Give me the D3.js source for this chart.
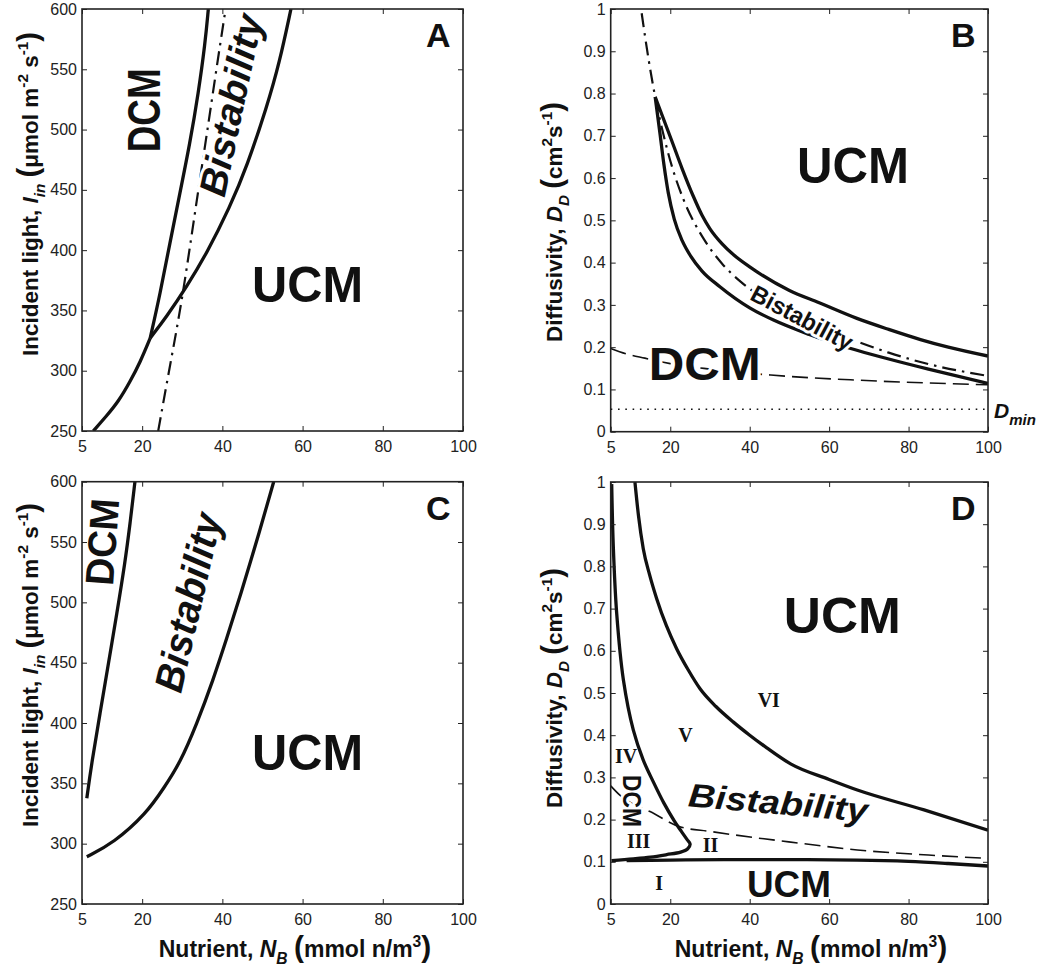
<!DOCTYPE html>
<meta charset="utf-8">
<style>
body { margin: 0; background: #fff; }
svg { font-family: "Liberation Sans", Arial, sans-serif; }
.axis text { font-size: 16px; fill: #222; font-family: "Liberation Sans", Arial, sans-serif; }
.frame { fill: none; stroke: #222; stroke-width: 1.6; }
.solid { fill: none; stroke: #111; stroke-width: 3.3; stroke-linejoin: round; }
.dashdot { fill: none; stroke: #111; stroke-width: 2.2; stroke-dasharray: 14 6 2.5 6; }
.dashed { fill: none; stroke: #111; stroke-width: 1.6; stroke-dasharray: 16 7; }
.dotted { fill: none; stroke: #111; stroke-width: 1.6; stroke-dasharray: 1.6 5.7; }
.region { font-weight: bold; fill: #111; }
.halo { stroke: #fff; stroke-width: 6; paint-order: stroke; stroke-linejoin: round; }
.roman { font-family: "Liberation Serif", "Times New Roman", serif; font-weight: bold; font-size: 20px; fill: #111; }
.title { font-weight: bold; fill: #111; }
.letter { font-weight: bold; font-size: 34px; fill: #111; }
</style>
<svg width="1048" height="970"></svg>
<script src="https://d3js.org/d3.v7.min.js"></script>
<script>
// tick values
var nutrientTicks = [5, 20, 40, 60, 80, 100];
var lightTicks = [250, 300, 350, 400, 450, 500, 550, 600];
var diffTicks = [0, 0.1, 0.2, 0.3, 0.4, 0.5, 0.6, 0.7, 0.8, 0.9, 1];

// panel A: incident light vs nutrient  [N_B, I_in]
var lightA_lowBranch = [[7.8,250],[11,262],[14,274],[17,291],[19.5,307],[22,327]];
var lightA_ucmEdge = [[22,327],[26.1,344.8],[31.1,369.7],[36.1,397.3],[41.9,436],[46.1,469.2],[51.1,518.9],[54.2,555],[57.1,600]];
var lightA_dcmEdge = [[22,327],[24.5,364.2],[26.9,405.6],[29.4,447.1],[31.9,488.6],[34,530],[35.7,571.5],[36.5,600]];
var lightA_dashDot = [[24,250],[26.7,300],[29.5,350],[31.8,400],[34,450],[36.3,500],[38.5,550],[40.8,600]];

// panel B: diffusivity vs nutrient  [N_B, D_D]
var diffB_upper = [[16.2,0.792],[20.3,0.69],[23,0.622],[25.8,0.557],[28,0.512],[30,0.48],[33,0.445],[36,0.418],[40,0.39],[50,0.334],[57.5,0.305],[67,0.268],[75,0.242],[83,0.218],[90,0.2],[100,0.179]];
var diffB_lower = [[16.2,0.792],[17.4,0.706],[18.4,0.632],[19.5,0.565],[21,0.503],[23,0.452],[25.1,0.416],[28,0.38],[32.5,0.343],[40,0.293],[46,0.264],[55,0.23],[65,0.198],[75,0.172],[85,0.148],[100,0.114]];
var diffB_dashDot = [[12.8,0.99],[14.5,0.883],[16.2,0.792],[18.2,0.706],[20.5,0.625],[23.3,0.55],[28.5,0.455],[33,0.398],[37.7,0.355],[45,0.307],[55,0.26],[66,0.217],[75,0.187],[85,0.16],[100,0.132]];
var diffB_dashed = [[5,0.197],[9,0.184],[13.6,0.174],[20,0.161],[30,0.148],[45.3,0.134],[67,0.122],[100,0.111]];
var diffB_dmin = [[5,0.053],[100,0.053]];

// panel C
var lightC_left = [[6.2,337.6],[7.4,366.6],[9.5,408.1],[11.6,449.5],[13.7,491],[15.7,532.4],[17,565.6],[18.2,600]];
var lightC_right = [[6.2,289.2],[12.8,300.3],[21.1,325.2],[25.3,345.6],[29.4,366.6],[33.6,399],[37.7,435.7],[41,469.2],[44.4,504.7],[49.4,560],[52.8,600]];

// panel D
var diffD_left = [[5.25,0.995],[5.65,0.848],[6.5,0.69],[8.2,0.531],[10.7,0.412],[13.2,0.341],[15.7,0.29],[18.4,0.239],[21,0.197],[22.8,0.172],[24.2,0.153],[25,0.142],[24.4,0.131],[22.6,0.123],[19.1,0.117],[15,0.111],[10.7,0.107],[5.2,0.103]];
var diffD_upper = [[11.1,1.0],[12,0.92],[13.2,0.842],[14.8,0.78],[16.6,0.723],[19,0.66],[21.6,0.605],[24.5,0.555],[27.5,0.51],[31.5,0.468],[35.9,0.431],[40,0.4],[44.3,0.37],[50.3,0.332],[60,0.295],[67.1,0.27],[83.9,0.223],[100,0.175]];
var diffD_floor = [[9,0.103],[20,0.104],[33.5,0.105],[50,0.105],[67,0.104],[80,0.101],[90,0.096],[100,0.09]];
var diffD_dashed = [[5,0.28],[7.3,0.258],[10,0.24],[14.9,0.219],[22.4,0.183],[30,0.172],[35.9,0.164],[52.7,0.144],[67.1,0.128],[85,0.116],[100,0.108]];

var svg = d3.select("svg");

var lightTitle = [{t:"Incident light, "},{t:"I",it:1},{t:"in",it:1,sub:1},{t:" "},{t:"(",big:1},{t:"\u03bcmol m"},{t:"-2",sup:1},{t:" s"},{t:"-1",sup:1},{t:")",big:1}];
var diffTitle = [{t:"Diffusivity, "},{t:"D",it:1},{t:"D",it:1,sub:1},{t:" "},{t:"(",big:1},{t:"cm"},{t:"2",sup:1},{t:"s"},{t:"-1",sup:1},{t:")",big:1}];
var nutrientTitle = [{t:"Nutrient, "},{t:"N",it:1},{t:"B",it:1,sub:1},{t:" "},{t:"(",big:1},{t:"mmol n/m"},{t:"3",sup:1},{t:")",big:1}];

function richText(sel, parts, size) {
  var off = 0;
  parts.forEach(function(p) {
    var shift = p.sub ? 0.3 * size : p.sup ? -0.45 * size : 0;
    sel.append("tspan")
      .attr("dy", shift - off)
      .attr("font-size", (p.sub || p.sup) ? size * 0.68 : p.big ? size * 1.3 : size)
      .attr("font-style", p.it ? "italic" : null)
      .text(p.t);
    off = shift;
  });
}

var panels = [
  { name: "A", left: 82, right: 463, top: 9, bottom: 431, yDomain: [250, 600], yTicks: lightTicks,
    yTitle: lightTitle, yTitleX: 38, yTitleY: 194, order: "free",
    solid: [lightA_lowBranch, lightA_ucmEdge, lightA_dcmEdge], dashdot: [lightA_dashDot], dashed: [], dotted: [],
    labels: [
      {text: "DCM", at: [24.45, 516], rot: -90, size: 46, len: 84, anchor: "middle"},
      {text: "Bistability", at: [45.3, 518], rot: -78, size: 38, len: 185, anchor: "middle", italic: 1},
      {text: "UCM", at: [47.4, 357], size: 50, len: 111}
    ] },
  { name: "B", left: 610.7, right: 988, top: 9, bottom: 431.7, yDomain: [0, 1], yTicks: diffTicks,
    yTitle: diffTitle, yTitleX: 562, yTitleY: 222, order: "x",
    solid: [diffB_upper, diffB_lower], dashdot: [diffB_dashDot], dashed: [diffB_dashed], dotted: [diffB_dmin],
    labels: [
      {text: "UCM", at: [51.9, 0.588], size: 50, len: 112},
      {text: "DCM", at: [14.6, 0.122], size: 46, len: 112},
      {text: "Bistability", at: [52.2, 0.252], rot: 28, size: 24, len: 112, anchor: "middle"}
    ] },
  { name: "C", left: 82, right: 463, top: 481.7, bottom: 904, yDomain: [250, 600], yTicks: lightTicks,
    yTitle: lightTitle, yTitleX: 38, yTitleY: 665, xTitle: nutrientTitle, xTitleX: 295, order: "free",
    solid: [lightC_left, lightC_right], dashdot: [], dashed: [], dotted: [],
    labels: [
      {text: "DCM", at: [13.5, 549.3], rot: -86, size: 40, len: 87, anchor: "middle"},
      {text: "Bistability", at: [34.8, 497.3], rot: -77, size: 40, len: 182, anchor: "middle", italic: 1},
      {text: "UCM", at: [47.4, 361.1], size: 50, len: 111}
    ] },
  { name: "D", left: 610.7, right: 988, top: 482, bottom: 904, yDomain: [0, 1], yTicks: diffTicks,
    yTitle: diffTitle, yTitleX: 562, yTitleY: 688, xTitle: nutrientTitle, xTitleX: 811, order: "x",
    solid: [diffD_upper, diffD_floor], loop: [diffD_left], dashdot: [], dashed: [diffD_dashed], dotted: [],
    labels: [
      {text: "UCM", at: [48.6, 0.642], size: 50, len: 117},
      {text: "UCM", at: [39.3, 0.0166], size: 37, len: 84},
      {text: "Bistability", at: [46.9, 0.213], rot: 5, size: 33, len: 180, anchor: "middle", italic: 1},
      {text: "DCM", at: [8.1, 0.244], rot: 90, size: 26, len: 52, anchor: "middle"}
    ],
    roman: [["VI", 42.0, 0.467], ["V", 22.0, 0.384], ["IV", 6.1, 0.334], ["III", 9.1, 0.132], ["II", 28.2, 0.124], ["I", 16.2, 0.033]] }
];

panels.forEach(drawPanel);

function drawPanel(p) {
  var x = d3.scaleLinear().domain([5, 100]).range([p.left, p.right]);
  var y = d3.scaleLinear().domain(p.yDomain).range([p.bottom, p.top]);
  var g = svg.append("g");

  svg.append("clipPath").attr("id", "clip" + p.name)
    .append("rect").attr("x", p.left).attr("y", p.top)
    .attr("width", p.right - p.left).attr("height", p.bottom - p.top);

  function gen(curve) {
    return d3.line().x(function(d) { return x(d[0]); }).y(function(d) { return y(d[1]); }).curve(curve);
  }
  var free = gen(d3.curveCatmullRom.alpha(0.5));
  var line = p.order === "x" ? gen(d3.curveMonotoneX) : gen(d3.curveBasis);

  var plot = g.append("g").attr("clip-path", "url(#clip" + p.name + ")");
  p.dotted.forEach(function(c) { plot.append("path").attr("class", "dotted").attr("d", line(c)); });
  p.dashed.forEach(function(c) { plot.append("path").attr("class", "dashed").attr("d", line(c)); });
  p.dashdot.forEach(function(c) { plot.append("path").attr("class", "dashdot").attr("d", line(c)); });

  p.labels.forEach(function(l) {
    var t = g.append("text")
      .attr("class", "region halo")
      .attr("transform", "translate(" + x(l.at[0]) + "," + y(l.at[1]) + ") rotate(" + (l.rot || 0) + ")")
      .attr("text-anchor", l.anchor || "start")
      .attr("font-size", l.size)
      .attr("font-style", l.italic ? "italic" : null)
      .text(l.text);
    if (l.len) t.attr("textLength", l.len).attr("lengthAdjust", "spacingAndGlyphs");
  });

  (p.roman || []).forEach(function(r) {
    g.append("text").attr("class", "roman").attr("x", x(r[1])).attr("y", y(r[2])).text(r[0]);
  });

  p.solid.forEach(function(c) { plot.append("path").attr("class", "solid").attr("d", line(c)); });
  (p.loop || []).forEach(function(c) { plot.append("path").attr("class", "solid").attr("d", free(c)); });

  g.append("rect").attr("class", "frame")
    .attr("x", p.left).attr("y", p.top)
    .attr("width", p.right - p.left).attr("height", p.bottom - p.top);

  var fmt = function(d) { return String(d); };
  function noDomain(s) { s.select(".domain").remove(); s.attr("color", "#222"); }

  g.append("g").attr("class", "axis").attr("transform", "translate(0," + p.bottom + ")")
    .call(d3.axisBottom(x).tickValues(nutrientTicks).tickFormat(fmt).tickSizeInner(-5).tickSizeOuter(0).tickPadding(10))
    .call(noDomain);
  g.append("g").attr("class", "axis").attr("transform", "translate(0," + p.top + ")")
    .call(d3.axisTop(x).tickValues(nutrientTicks).tickFormat("").tickSizeInner(-5).tickSizeOuter(0))
    .call(noDomain);
  g.append("g").attr("class", "axis").attr("transform", "translate(" + p.left + ",0)")
    .call(d3.axisLeft(y).tickValues(p.yTicks).tickFormat(fmt).tickSizeInner(-5).tickSizeOuter(0).tickPadding(5))
    .call(noDomain);
  g.append("g").attr("class", "axis").attr("transform", "translate(" + p.right + ",0)")
    .call(d3.axisRight(y).tickValues(p.yTicks).tickFormat("").tickSizeInner(-5).tickSizeOuter(0))
    .call(noDomain);

  var yt = g.append("text").attr("class", "title")
    .attr("transform", "translate(" + p.yTitleX + "," + p.yTitleY + ") rotate(-90)")
    .attr("text-anchor", "middle");
  richText(yt, p.yTitle, 22.5);

  if (p.xTitle) {
    var xt = g.append("text").attr("class", "title")
      .attr("x", p.xTitleX).attr("y", 957).attr("text-anchor", "middle");
    richText(xt, p.xTitle, 23);
  }

  g.append("text").attr("class", "letter").attr("x", p.right - 37).attr("y", p.top + 38).text(p.name);

  if (p.name === "B") {
    var dm = g.append("text").attr("class", "title").attr("font-style", "italic")
      .attr("x", p.right + 6).attr("y", y(diffB_dmin[0][1]) + 9);
    dm.append("tspan").attr("font-size", 21).text("D");
    dm.append("tspan").attr("font-size", 15).attr("dy", 7).text("min");
  }
}
</script>
